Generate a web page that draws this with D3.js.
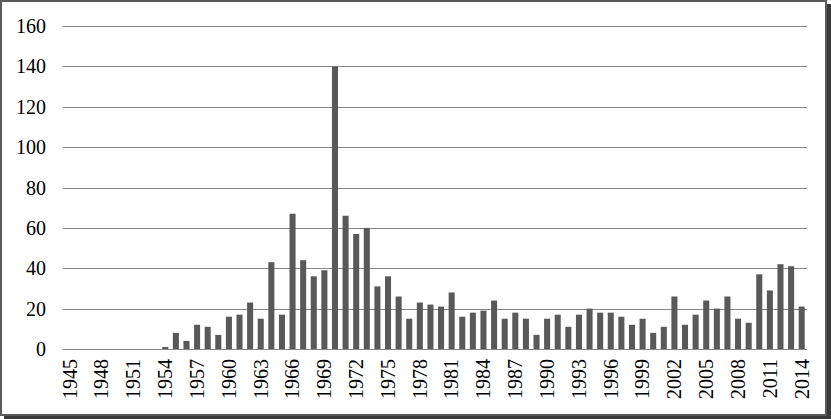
<!DOCTYPE html>
<html>
<head>
<meta charset="utf-8">
<script src="https://cdn.jsdelivr.net/npm/d3@7"></script>
<style>
  html, body { margin: 0; padding: 0; background: #fff; }
  svg { display: block; }
</style>
</head>
<body>
<svg id="chart" width="831" height="419"></svg>
<script>
const years = d3.range(1945, 2015).map(String);
const values = [
  0, 0, 0, 0, 0, 0, 0, 0, 0,        // 1945-1953
  1, 8, 4, 12, 11, 7,               // 1954-1959
  16, 17, 23, 15, 43, 17, 67, 44, 36, 39, // 1960-1969
  140, 66, 57, 60, 31, 36, 26, 15, 23, 22, // 1970-1979
  21, 28, 16, 18, 19, 24, 15, 18, 15, 7,   // 1980-1989
  15, 17, 11, 17, 20, 18, 18, 16, 12, 15,  // 1990-1999
  8, 11, 26, 12, 17, 24, 20, 26, 15, 13,   // 2000-2009
  37, 29, 42, 41, 21                       // 2010-2014
];
const yTicks = [0, 20, 40, 60, 80, 100, 120, 140, 160];
const xTickLabels = years.filter((y, i) => i % 3 === 0);

const FONT = "'Liberation Serif', 'DejaVu Serif', serif";
const svg = d3.select("#chart");
const W = 831, H = 419;

// frame with shadow
svg.append("rect").attr("x", 4).attr("y", 4).attr("width", W - 4).attr("height", H - 4).attr("fill", "#3a3a3a");
svg.append("rect").attr("x", 0).attr("y", 0).attr("width", 827).attr("height", 416).attr("fill", "#fff");
svg.append("rect").attr("x", 1).attr("y", 1).attr("width", 825).attr("height", 414)
  .attr("fill", "none").attr("stroke", "#5a5a5a").attr("stroke-width", 2);

const x = d3.scaleBand().domain(years).range([64.5, 807]).paddingInner(0.43).paddingOuter(0.215);
const y = d3.scaleLinear().domain([0, 160]).range([349, 26]);

// gridlines
svg.append("g").selectAll("line").data(yTicks).join("line")
  .attr("x1", 63).attr("x2", 807)
  .attr("y1", d => Math.round(y(d)) + 0.5).attr("y2", d => Math.round(y(d)) + 0.5)
  .attr("stroke", "#878787").attr("stroke-width", 1);

// y labels
svg.append("g").selectAll("text").data(yTicks).join("text")
  .attr("x", 46).attr("y", d => y(d)).attr("dy", "0.35em")
  .attr("text-anchor", "end").attr("font-size", 20)
  .style("font-family", FONT).attr("fill", "#000")
  .text(d => d);

// bars
svg.append("g").selectAll("rect").data(years).join("rect")
  .attr("x", d => x(d))
  .attr("width", x.bandwidth())
  .attr("y", (d, i) => y(values[i]))
  .attr("height", (d, i) => y(0) - y(values[i]))
  .attr("fill", "#595959");

// x labels
svg.append("g").selectAll("text").data(xTickLabels).join("text")
  .attr("transform", d => `translate(${x(d) + x.bandwidth() / 2},359) rotate(-90)`)
  .attr("dy", "0.34em")
  .attr("text-anchor", "end").attr("font-size", 20)
  .style("font-family", FONT).attr("fill", "#000")
  .text(d => d);
</script>
</body>
</html>
